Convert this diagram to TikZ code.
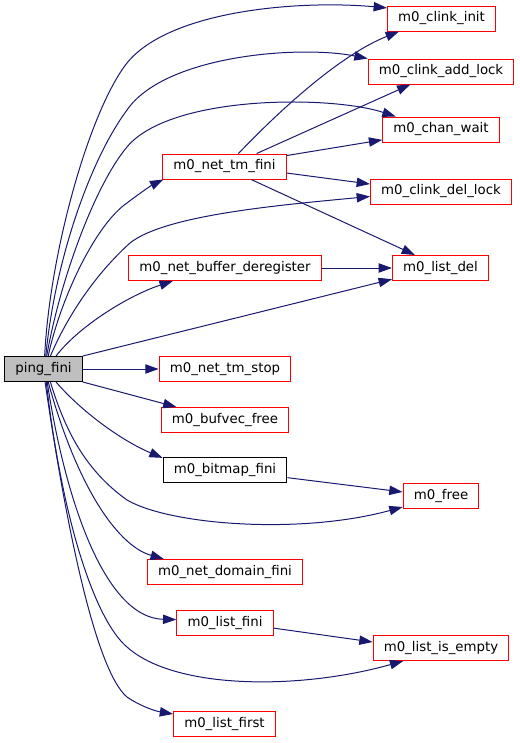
\documentclass[tikz,border=0pt]{standalone}
\usepackage{fontspec}
\setmainfont{DejaVu Sans}
\usetikzlibrary{arrows.meta}
\definecolor{edgeblue}{HTML}{191970}
\definecolor{rootgray}{HTML}{BFBFBF}

\begin{document}
\begin{tikzpicture}[x=0.75pt, y=-0.75pt,
    fn/.style={draw=red, line width=0.75pt, minimum height=18.75pt, inner xsep=8pt, inner ysep=0pt, font=\fontsize{10}{12}\selectfont},
    call/.style={draw=edgeblue, line width=0.75pt, -{Triangle[length=10pt, width=7pt, fill=edgeblue]}}]
    \useasboundingbox (0, 0) rectangle (520, 743);

    \node[fn, draw=black, fill=rootgray] (ping) at (43.5, 369) {ping\_fini};
    \node[fn] (clinit) at (441.5, 18.5) {m0\_clink\_init};
    \node[fn] (claddlock) at (441, 71.5) {m0\_clink\_add\_lock};
    \node[fn] (chanwait) at (441, 129.5) {m0\_chan\_wait};
    \node[fn] (nettmfini) at (224.5, 166.5) {m0\_net\_tm\_fini};
    \node[fn] (cldellock) at (441, 191.5) {m0\_clink\_del\_lock};
    \node[fn] (netbufdereg) at (225, 268) {m0\_net\_buffer\_deregister};
    \node[fn] (listdel) at (440.5, 268) {m0\_list\_del};
    \node[fn] (nettmstop) at (225, 369) {m0\_net\_tm\_stop};
    \node[fn] (bufvecfree) at (225, 420) {m0\_bufvec\_free};
    \node[fn, draw=black] (bitmapfini) at (225, 470) {m0\_bitmap\_fini};
    \node[fn] (free) at (441, 496) {m0\_free};
    \node[fn] (netdomfini) at (225, 572) {m0\_net\_domain\_fini};
    \node[fn] (listfini) at (225, 623) {m0\_list\_fini};
    \node[fn] (listisempty) at (441, 648) {m0\_list\_is\_empty};
    \node[fn] (listfirst) at (224.5, 724) {m0\_list\_first};

    % calls made by ping_fini
    \draw[call] (ping.85) .. controls (50, 250) and (90, 110) .. (127, 63)
        .. controls (170, 10) and (300, 0) .. (clinit.169);
    \draw[call] (ping.80) .. controls (55, 260) and (90, 160) .. (127, 110)
        .. controls (165, 55) and (300, 45) .. (claddlock.170);
    \draw[call] (ping.76) .. controls (60, 280) and (95, 185) .. (127, 147)
        .. controls (170, 95) and (330, 95) .. (chanwait.164);
    \draw[call] (ping.70) .. controls (60, 300) and (95, 225) .. (127, 203)
        .. controls (140, 193) and (152, 185) .. (nettmfini.192);
    \draw[call] (ping.62) .. controls (70, 310) and (100, 270) .. (130, 243)
        .. controls (165, 215) and (280, 205) .. (cldellock.184);
    \draw[call] (ping.46) .. controls (80, 325) and (130, 295) .. (netbufdereg.194);
    \draw[call] (ping.north east) -- (listdel.193);
    \draw[call] (ping.east) -- (nettmstop.west);
    \draw[call] (ping.south east) -- (bufvecfree.165);
    \draw[call] (ping.314) .. controls (80, 410) and (120, 440) .. (bitmapfini.169);
    \draw[call] (ping.298) .. controls (65, 430) and (85, 470) .. (127, 500)
        .. controls (170, 525) and (300, 535) .. (free.196);
    \draw[call] (ping.290) .. controls (75, 480) and (115, 545) .. (netdomfini.168);
    \draw[call] (ping.286) .. controls (65, 500) and (105, 618) .. (listfini.176);
    \draw[call] (ping.282) .. controls (62, 520) and (95, 620) .. (127, 647)
        .. controls (175, 690) and (300, 690) .. (listisempty.199);
    \draw[call] (ping.277) .. controls (65, 520) and (95, 670) .. (127, 697)
        .. controls (140, 706) and (155, 711) .. (listfirst.169);

    % second level
    \draw[call] (nettmfini.43) .. controls (280, 110) and (340, 55) .. (clinit.197);
    \draw[call] (nettmfini.22) -- (claddlock.203);
    \draw[call] (nettmfini.10) -- (chanwait.190);
    \draw[call] (nettmfini.354) -- (cldellock.174);
    \draw[call] (nettmfini.334) -- (listdel.153);
    \draw[call] (netbufdereg.east) -- (listdel.west);
    \draw[call] (bitmapfini.353) -- (free.174);
    \draw[call] (listfini.354) -- (listisempty.175);
\end{tikzpicture}
\end{document}
